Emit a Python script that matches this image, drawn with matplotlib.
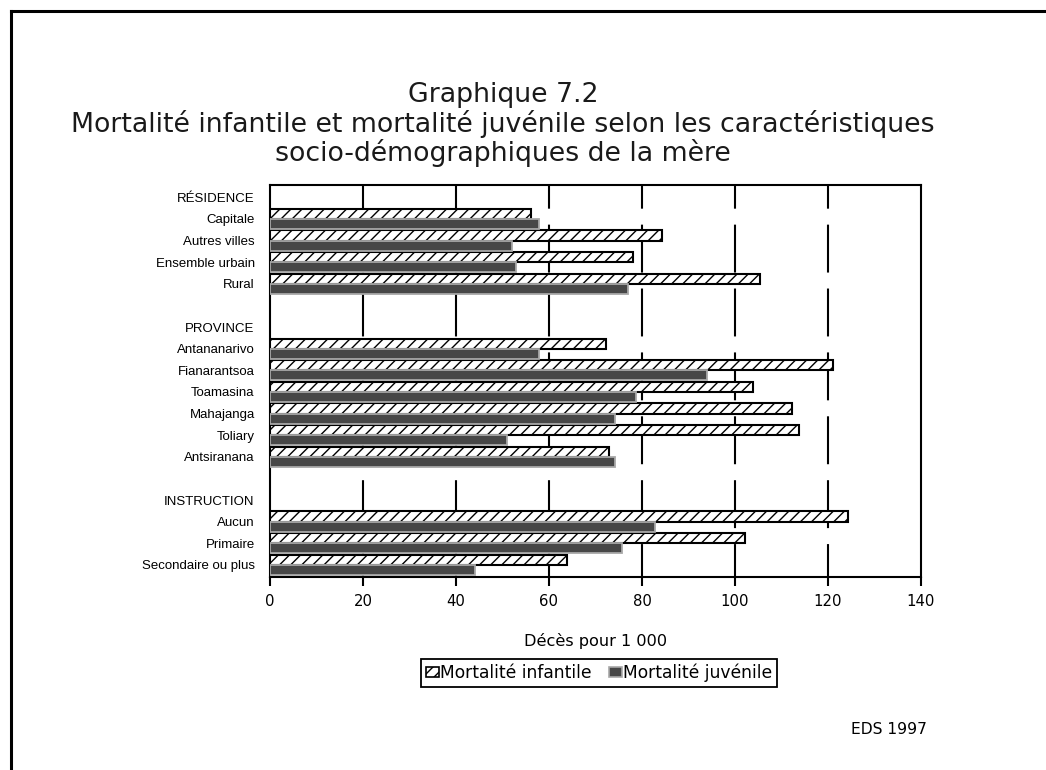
import matplotlib
matplotlib.use("Agg")
import matplotlib.pyplot as plt
from matplotlib.patches import Patch
from matplotlib.lines import Line2D
import numpy as np

plt.rcParams['font.family'] = ['Liberation Sans', 'DejaVu Sans']
plt.rcParams['hatch.linewidth'] = 1.0
plt.rcParams['lines.scale_dashes'] = False

# ---- data ----
row_labels = ["RÉSIDENCE", "Capitale", "Autres villes", "Ensemble urbain", "Rural", "",
              "PROVINCE", "Antananarivo", "Fianarantsoa", "Toamasina", "Mahajanga", "Toliary",
              "Antsiranana", "", "INSTRUCTION", "Aucun", "Primaire", "Secondaire ou plus"]
infantile = [None, 56.2, 84.4, 78.1, 105.4, None,
             None, 72.3, 121.1, 103.9, 112.2, 113.8, 73.0, None,
             None, 124.2, 102.2, 63.8]
juvenile = [None, 57.9, 52.0, 53.0, 76.9, None,
            None, 57.9, 93.9, 78.8, 74.2, 50.9, 74.2, None,
            None, 82.8, 75.8, 44.1]
x_ticks = [0, 20, 40, 60, 80, 100, 120, 140]
title_lines = ["Graphique 7.2",
               "Mortalité infantile et mortalité juvénile selon les caractéristiques",
               "socio-démographiques de la mère"]
xlabel = "Décès pour 1 000"
series_names = ["Mortalité infantile", "Mortalité juvénile"]
source = "EDS 1997"

WIDE = ['DejaVu Sans']

W, H = 1046, 770
fig = plt.figure(figsize=(W / 100, H / 100), dpi=100)
ax = fig.add_axes([270 / W, 1 - 577 / H, (921 - 270) / W, (577 - 185) / H])

pos = np.arange(len(row_labels))
idx = [i for i, v in enumerate(infantile) if v is not None]
inf_vals = [infantile[i] for i in idx]
juv_vals = [juvenile[i] for i in idx]
bh = 0.47
ax.barh(pos[idx] - bh / 2, inf_vals, height=bh, color='white', edgecolor='black',
        hatch='///', linewidth=1.5, zorder=3)
ax.barh(pos[idx] + bh / 2, juv_vals, height=bh, color='#474747', edgecolor='#a8a8a8',
        linewidth=1.3, zorder=3)

# dashed vertical gridlines
for t in x_ticks[1:-1]:
    ax.axvline(t, color='black', linewidth=1.5, zorder=1,
               linestyle=(10.8, (34.5, 11.5)))

ax.set_xlim(0, 140)
ax.set_ylim(17.56, -0.57)
ax.set_xticks(x_ticks)
ax.set_xticklabels([str(t) for t in x_ticks], fontsize=10.7, family=WIDE)
ax.set_yticks(pos)
ax.set_yticklabels(row_labels, fontsize=9.5)
ax.tick_params(axis='y', length=0, pad=11)
ax.tick_params(axis='x', direction='out', length=6.5, width=1.5, pad=6)
for s in ax.spines.values():
    s.set_linewidth(1.5)
    s.set_color('black')
ax.set_xlabel(xlabel, fontsize=11.6, family=WIDE, labelpad=17)

# title
for k, line in enumerate(title_lines):
    fig.text(503 / W, 1 - (95 + 29 * k) / H, line, ha='center', va='center',
             fontsize=19.3, family=WIDE, color='#1a1a1a')

# legend
handles = [Patch(facecolor='white', edgecolor='black', hatch='///', linewidth=1.2),
           Patch(facecolor='#474747', edgecolor='#a8a8a8', linewidth=1.2)]
leg = fig.legend(handles, series_names, loc='center', bbox_to_anchor=(599 / W, 1 - 673 / H),
                 ncol=2, fancybox=False, edgecolor='black', framealpha=1,
                 prop={'family': WIDE, 'size': 12.3},
                 handlelength=0.75, handleheight=0.5, handletextpad=0.08, columnspacing=1.0,
                 borderpad=0.3, borderaxespad=0)
leg.get_frame().set_linewidth(1.3)

fig.text(927 / W, 1 - 730 / H, source, ha='right', va='center', fontsize=11.2, family=WIDE)

# outer frame
fig.add_artist(Line2D([11 / W, 11 / W], [0, 1 - 11 / H], color='black', linewidth=2.2,
                      transform=fig.transFigure, solid_capstyle='projecting'))
fig.add_artist(Line2D([11 / W, 1], [1 - 11 / H, 1 - 11 / H], color='black', linewidth=2.2,
                      transform=fig.transFigure, solid_capstyle='projecting'))

fig.savefig("out.png", dpi=100, facecolor='white')
